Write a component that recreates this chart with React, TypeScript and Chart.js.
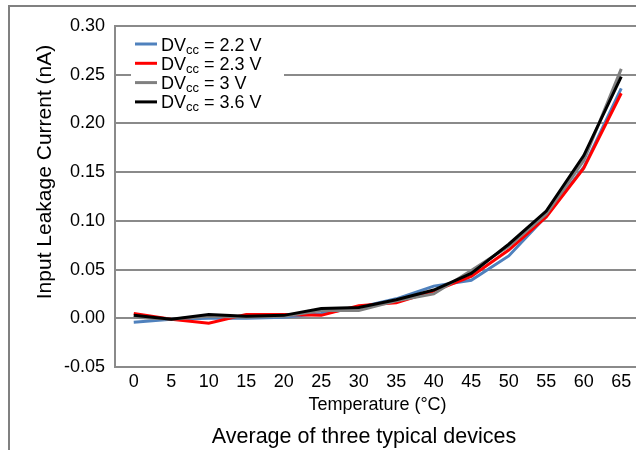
import React, { useEffect, useRef } from "react";
import { Chart, registerables } from "chart.js";

Chart.register(...registerables);

// ---- data ----
const temperatures = ["0", "5", "10", "15", "20", "25", "30", "35", "40", "45", "50", "55", "60", "65"];
const dv22 = [-0.004, -0.001, 0.0, 0.0, 0.001, 0.005, 0.011, 0.02, 0.033, 0.039, 0.064, 0.105, 0.155, 0.236];
const dv23 = [0.005, -0.001, -0.005, 0.004, 0.004, 0.003, 0.013, 0.016, 0.028, 0.043, 0.07, 0.104, 0.154, 0.231];
const dv30 = [0.001, -0.001, 0.002, 0.001, 0.002, 0.008, 0.008, 0.018, 0.025, 0.049, 0.074, 0.107, 0.162, 0.256];
const dv36 = [0.003, -0.001, 0.004, 0.002, 0.003, 0.01, 0.011, 0.019, 0.029, 0.046, 0.076, 0.11, 0.167, 0.248];
const yTickValues = [-0.05, 0, 0.05, 0.1, 0.15, 0.2, 0.25, 0.3];
const seriesVoltages = ["2.2 V", "2.3 V", "3 V", "3.6 V"];
const seriesColors = ["#4f81bd", "#ff0000", "#808080", "#000000"];
const xTitle = "Temperature (°C)";
const yTitle = "Input Leakage Current (nA)";
const subTitle = "Average of three typical devices";

const FONT = "'Liberation Sans', Arial, Helvetica, sans-serif";
const GRID = "#8a8a8a";

const decorPlugin = {
  id: "decor",
  beforeDraw(chart: any) {
    const ctx = chart.ctx;
    ctx.save();
    ctx.fillStyle = "#ffffff";
    ctx.fillRect(0, 0, chart.width, chart.height);
    ctx.strokeStyle = "#808080";
    ctx.lineWidth = 2;
    ctx.beginPath();
    ctx.moveTo(9, chart.height + 5);
    ctx.lineTo(9, 6);
    ctx.lineTo(chart.width + 5, 6);
    ctx.stroke();
    ctx.restore();
  },
  afterDraw(chart: any) {
    const ctx = chart.ctx;
    const area = chart.chartArea;
    ctx.save();
    // legend
    ctx.fillStyle = "#ffffff";
    ctx.fillRect(131, 30, 153, 82);
    seriesVoltages.forEach((v, i) => {
      const y = 44 + i * 19.3;
      ctx.strokeStyle = seriesColors[i];
      ctx.lineWidth = 3;
      ctx.beginPath();
      ctx.moveTo(135, y);
      ctx.lineTo(157, y);
      ctx.stroke();
      const base = y + 6.5;
      ctx.fillStyle = "#000";
      ctx.textAlign = "left";
      ctx.textBaseline = "alphabetic";
      ctx.font = `18px ${FONT}`;
      let x = 161;
      ctx.fillText("DV", x, base);
      x += ctx.measureText("DV").width;
      ctx.font = `13px ${FONT}`;
      ctx.fillText("cc", x, base + 3);
      x += ctx.measureText("cc").width;
      ctx.font = `18px ${FONT}`;
      ctx.fillText(" = " + v, x, base);
    });
    // titles
    ctx.fillStyle = "#000";
    ctx.textAlign = "center";
    ctx.textBaseline = "middle";
    ctx.font = `18px ${FONT}`;
    ctx.fillText(xTitle, (area.left + area.right) / 2, 405);
    ctx.font = `21.5px ${FONT}`;
    ctx.fillText(subTitle, 364, 437);
    ctx.translate(45, 172);
    ctx.rotate(-Math.PI / 2);
    ctx.font = `21px ${FONT}`;
    ctx.fillText(yTitle, 0, 0);
    ctx.restore();
  },
};

export default function App() {
  const ref = useRef<HTMLCanvasElement>(null);
  useEffect(() => {
    if (!ref.current) return;
    const series = [dv22, dv23, dv30, dv36];
    const chart = new Chart(ref.current, {
      type: "line",
      data: {
        labels: temperatures,
        datasets: series.map((d, i) => ({
          label: "DVcc = " + seriesVoltages[i],
          data: d,
          borderColor: seriesColors[i],
          backgroundColor: seriesColors[i],
          borderWidth: 3,
          pointRadius: 0,
          tension: 0,
          fill: false,
          order: 3 - i,
        })),
      },
      options: {
        animation: false,
        responsive: false,
        devicePixelRatio: 1,
        layout: { padding: { top: 26, right: 20, left: 0, bottom: 0 } },
        plugins: { legend: { display: false }, tooltip: { enabled: false }, title: { display: false } },
        scales: {
          x: {
            type: "category",
            offset: true,
            grid: { display: false, drawTicks: false },
            border: { display: true, color: GRID, width: 2 },
            ticks: {
              font: { size: 18, family: FONT },
              color: "#000",
              padding: 4,
              maxRotation: 0,
              autoSkip: false,
            },
            afterFit(s: any) {
              s.height = 83;
            },
          },
          y: {
            min: -0.05,
            max: 0.3,
            grid: { color: GRID, lineWidth: 2, drawTicks: false },
            border: { display: true, color: GRID, width: 2 },
            ticks: {
              font: { size: 18, family: FONT },
              color: "#000",
              padding: 10,
              callback: (v: any) => Number(v).toFixed(2),
            },
            afterBuildTicks(s: any) {
              s.ticks = yTickValues.map((v) => ({ value: v }));
            },
            afterFit(s: any) {
              s.width = 115;
            },
          },
        },
      },
      plugins: [decorPlugin],
    });
    return () => chart.destroy();
  }, []);
  return (
    <div style={{ position: "fixed", left: 0, top: 0, width: 636, height: 450, overflow: "hidden", background: "#fff" }}>
      <canvas ref={ref} width={660} height={450} style={{ display: "block", width: 660, height: 450 }} />
    </div>
  );
}
